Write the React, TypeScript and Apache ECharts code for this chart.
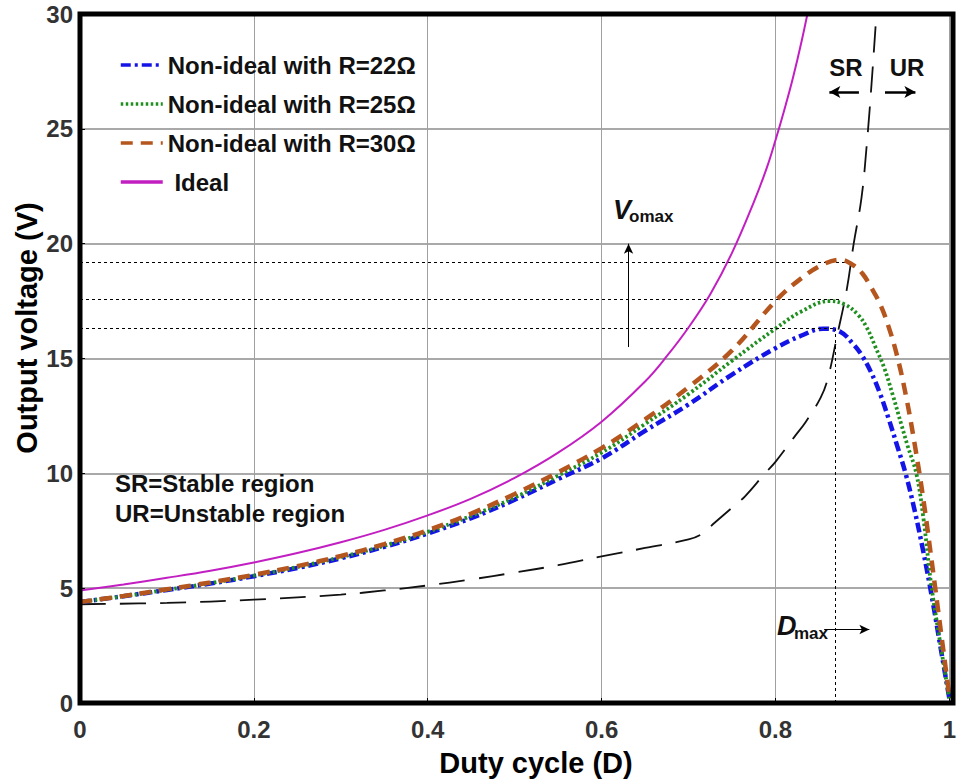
import React, { useEffect, useRef } from 'react';
import * as echarts from 'echarts';

const FONT = '"Liberation Sans", Arial, Helvetica, sans-serif';

const seriesNames = ['Non-ideal with R=22Ω', 'Non-ideal with R=25Ω', 'Non-ideal with R=30Ω', 'Ideal'];

// [duty cycle, output voltage]
const r22 = [
  [0, 4.4], [0.05, 4.65], [0.1, 4.92], [0.15, 5.2], [0.2, 5.52], [0.25, 5.88], [0.3, 6.3], [0.35, 6.8],
  [0.4, 7.38], [0.45, 8.05], [0.5, 8.85], [0.55, 9.75], [0.6, 10.65], [0.65, 11.85], [0.7, 13.0],
  [0.75, 14.3], [0.8, 15.45], [0.83, 16.0], [0.855, 16.3], [0.875, 16.15], [0.89, 15.6], [0.9, 15.1],
  [0.91, 14.4], [0.92, 13.5], [0.93, 12.4], [0.94, 11.2], [0.95, 9.95], [0.96, 8.4], [0.97, 6.6],
  [0.98, 4.6], [0.99, 2.4], [1.0, 0.2],
];
const r25 = [
  [0, 4.4], [0.05, 4.65], [0.1, 4.93], [0.15, 5.22], [0.2, 5.55], [0.25, 5.92], [0.3, 6.35], [0.35, 6.85],
  [0.4, 7.45], [0.45, 8.15], [0.5, 8.95], [0.55, 9.9], [0.6, 10.9], [0.65, 12.15], [0.7, 13.45],
  [0.75, 14.9], [0.8, 16.3], [0.83, 17.05], [0.862, 17.5], [0.88, 17.35], [0.895, 16.9], [0.905, 16.35],
  [0.915, 15.5], [0.925, 14.6], [0.935, 13.4], [0.945, 12.1], [0.952, 11.2], [0.962, 10.0], [0.97, 8.1],
  [0.979, 5.2], [0.99, 2.5], [1.0, 0.2],
];
const r30 = [
  [0, 4.4], [0.05, 4.66], [0.1, 4.95], [0.15, 5.25], [0.2, 5.58], [0.25, 5.96], [0.3, 6.4], [0.35, 6.92],
  [0.4, 7.52], [0.45, 8.25], [0.5, 9.1], [0.55, 10.05], [0.6, 11.1], [0.65, 12.35], [0.7, 13.75],
  [0.75, 15.35], [0.8, 17.5], [0.83, 18.5], [0.855, 19.1], [0.875, 19.3], [0.89, 19.05], [0.9, 18.7],
  [0.91, 18.1], [0.92, 17.4], [0.93, 16.4], [0.94, 15.1], [0.95, 13.4], [0.96, 11.3], [0.97, 8.9],
  [0.98, 6.1], [0.99, 3.2], [1.0, 0.3],
];
const ideal = [
  [0, 4.9], [0.05, 5.16], [0.1, 5.45], [0.15, 5.76], [0.2, 6.12], [0.25, 6.53], [0.3, 7.0], [0.35, 7.54],
  [0.4, 8.17], [0.45, 8.9], [0.5, 9.8], [0.55, 10.9], [0.6, 12.25], [0.65, 14.0], [0.675, 15.1],
  [0.7, 16.35], [0.725, 17.8], [0.75, 19.6], [0.775, 21.8], [0.79, 23.3], [0.8, 24.5], [0.81, 25.8],
  [0.82, 27.2], [0.83, 28.8], [0.84, 30.6],
];
const boundary = [
  [0, 4.3], [0.1, 4.36], [0.2, 4.5], [0.3, 4.72], [0.35, 4.9], [0.4, 5.12], [0.45, 5.38], [0.5, 5.68],
  [0.55, 6.0], [0.6, 6.38], [0.65, 6.75], [0.7, 7.12], [0.715, 7.35], [0.73, 7.85], [0.75, 8.5],
  [0.765, 9.0], [0.788, 10.0], [0.8, 10.5], [0.822, 11.6], [0.835, 12.25], [0.852, 13.3], [0.86, 14.1],
  [0.871, 16.0], [0.882, 18.0], [0.89, 20.0], [0.899, 22.0], [0.905, 24.3], [0.911, 27.2], [0.917, 30.5],
];

// annotation guides: [voltage level, end duty cycle]
const vomaxLevels = [[19.2, 0.884], [17.57, 0.874], [16.3, 0.868]];
const dmaxLine = [0.869, 0, 16.3];
const vomaxArrow = [0.631, 15.5, 20.0];
const dmaxArrow = [0.856, 0.908, 3.2];
const srArrow = [0.896, 0.862, 26.6];
const urArrow = [0.926, 0.961, 26.6];

const colors = ['#1414e6', '#1f8f1f', '#b4561e', '#c21fc2'];

export default function App() {
  const ref = useRef<HTMLDivElement>(null);
  useEffect(() => {
    const chart = echarts.init(ref.current!, null, { renderer: 'svg' });
    const dotted = { type: [3, 3], width: 1, color: '#000' };
    const arrowStyleThin = { type: 'solid', width: 1, color: '#000' };
    const arrowStyleBold = { type: 'solid', width: 2.5, color: '#000' };
    const arrowPair = (a: number[], b: number[], ls: any, size: number[]) => [
      { coord: a, symbol: 'none', lineStyle: ls },
      { coord: b, symbol: 'arrow', symbolSize: size, lineStyle: ls },
    ];
    const markData: any[] = [
      ...vomaxLevels.map(([v, d]) => [
        { coord: [0, v], symbol: 'none', lineStyle: dotted },
        { coord: [d, v], symbol: 'none', lineStyle: dotted },
      ]),
      [
        { coord: [dmaxLine[0], dmaxLine[1]], symbol: 'none', lineStyle: dotted },
        { coord: [dmaxLine[0], dmaxLine[2]], symbol: 'none', lineStyle: dotted },
      ],
      arrowPair([vomaxArrow[0], vomaxArrow[1]], [vomaxArrow[0], vomaxArrow[2]], arrowStyleThin, [7, 10]),
      arrowPair([dmaxArrow[0], dmaxArrow[2]], [dmaxArrow[1], dmaxArrow[2]], arrowStyleThin, [7, 10]),
      arrowPair([srArrow[0], srArrow[2]], [srArrow[1], srArrow[2]], arrowStyleBold, [9, 11]),
      arrowPair([urArrow[0], urArrow[2]], [urArrow[1], urArrow[2]], arrowStyleBold, [9, 11]),
    ];
    const txt = (t: string, x: number, y: number, size: number, extra: any = {}, el: any = {}) => ({
      type: 'text', x, y, z: 120, ...el,
      style: { text: t, fontFamily: FONT, fontSize: size, fontWeight: 'bold', fill: '#111', ...extra },
    });
    const lineSeries = (name: string, data: number[][], color: string, type: any, width: number, z: number) => ({
      name, type: 'line', data, symbol: 'none', smooth: 0.4, z,
      lineStyle: { color, type, width, cap: 'butt' }, itemStyle: { color },
    });
    chart.setOption({
      animation: false,
      backgroundColor: '#fff',
      grid: { left: 80, right: 6, top: 14, bottom: 77 },
      legend: {
        data: seriesNames,
        orient: 'vertical', left: 114, top: 48, itemGap: 15, itemWidth: 42, itemHeight: 14,
        itemStyle: { opacity: 0 },
        lineStyle: { width: 3.5 },
        textStyle: { fontFamily: FONT, fontSize: 24, fontWeight: 'bold', color: '#111' },
        formatter: (n: string) => (n === 'Ideal' ? ' Ideal' : n),
      },
      xAxis: {
        type: 'value', min: 0, max: 1, interval: 0.2,
        axisLine: { show: false },
        axisTick: { show: true, inside: true, length: 5, lineStyle: { color: '#000' } },
        axisLabel: { margin: 14, fontFamily: FONT, fontSize: 24, fontWeight: 'bold', color: '#333' },
        splitLine: { show: true, lineStyle: { color: '#a0a0a0', width: 1 } },
      },
      yAxis: {
        type: 'value', min: 0, max: 30, interval: 5,
        axisLine: { show: false },
        axisTick: { show: true, inside: true, length: 5, lineStyle: { color: '#000' } },
        axisLabel: { margin: 7, fontFamily: FONT, fontSize: 24, fontWeight: 'bold', color: '#333' },
        splitLine: { show: true, lineStyle: { color: '#8c8c8c', width: 1.6 } },
      },
      series: [
        {
          ...lineSeries('boundary', boundary, '#111', [26, 14], 1.8, 2),
          markLine: { silent: true, symbol: ['none', 'none'], label: { show: false }, data: markData },
        },
        lineSeries(seriesNames[0], r22, colors[0], [10, 4, 3, 4], 4.5, 3),
        lineSeries(seriesNames[1], r25, colors[1], [2.5, 2.5], 3.8, 4),
        lineSeries(seriesNames[2], r30, colors[2], [12, 8], 4.5, 5),
        lineSeries(seriesNames[3], ideal, colors[3], 'solid', 2, 6),
      ],
      graphic: [
        { type: 'rect', z: 110, shape: { x: 80, y: 14, width: 873, height: 689 },
          style: { fill: 'none', stroke: '#000', lineWidth: 5 } },
        txt('Output voltage (V)', 27, 328, 29, { align: 'center', verticalAlign: 'middle', fill: '#000' }, { rotation: Math.PI / 2 }),
        txt('Duty cycle (D)', 536, 763, 29, { align: 'center', verticalAlign: 'middle', fill: '#000' }),
        txt('SR=Stable region', 115, 483, 24, { verticalAlign: 'middle' }),
        txt('UR=Unstable region', 115, 513, 24, { verticalAlign: 'middle' }),
        txt('SR', 846, 67, 24, { align: 'center', verticalAlign: 'middle' }),
        txt('UR', 907, 67, 24, { align: 'center', verticalAlign: 'middle' }),
        txt('V', 613, 196, 27, { fontStyle: 'italic' }),
        txt('omax', 629, 208, 17),
        txt('D', 777, 612, 27, { fontStyle: 'italic' }),
        txt('max', 794, 625, 17),
      ],
    });
    return () => chart.dispose();
  }, []);
  return <div ref={ref} style={{ position: 'absolute', left: 0, top: 0, width: 959, height: 780 }} />;
}
